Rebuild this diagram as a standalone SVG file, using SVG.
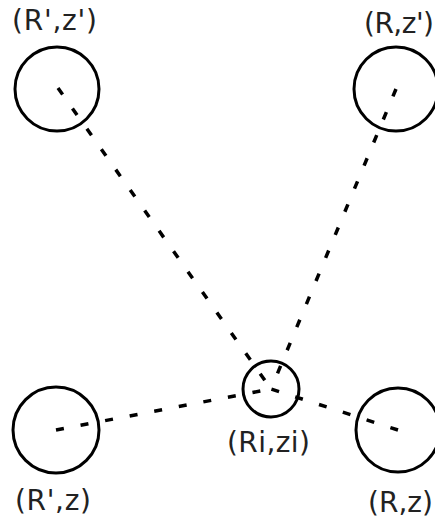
<svg xmlns="http://www.w3.org/2000/svg" width="435" height="518" viewBox="0 0 435 518">
<style>
.n{fill:none;stroke:#000;stroke-width:3}
.c{stroke:#000;stroke-width:3.5;stroke-dasharray:8 17;fill:none}
text{font-family:"DejaVu Sans",sans-serif;font-size:28px;fill:#222}
</style>
<rect width="435" height="518" fill="#fff"/>
<g id="connectors">
<line class="c" x1="58" y1="88" x2="271" y2="389"/>
<line class="c" x1="396" y1="89" x2="271" y2="389"/>
<line class="c" x1="56" y1="430" x2="271" y2="389"/>
<line class="c" x1="398" y1="430" x2="271" y2="389"/>
</g>
<g id="n1"><circle class="n" cx="57" cy="89" r="42"/><text x="12" y="30" textLength="85">(R',z')</text></g>
<g id="n2"><circle class="n" cx="396" cy="89" r="42"/><text x="364" y="33" textLength="70">(R,z')</text></g>
<g id="n3"><circle class="n" cx="56" cy="430" r="43"/><text x="15" y="510" textLength="76">(R',z)</text></g>
<g id="n4"><circle class="n" cx="398" cy="430" r="42"/><text x="368" y="512" textLength="65">(R,z)</text></g>
<g id="n5"><circle class="n" cx="271" cy="389" r="28"/><text x="227" y="452" textLength="83">(Ri,zi)</text></g>
</svg>
